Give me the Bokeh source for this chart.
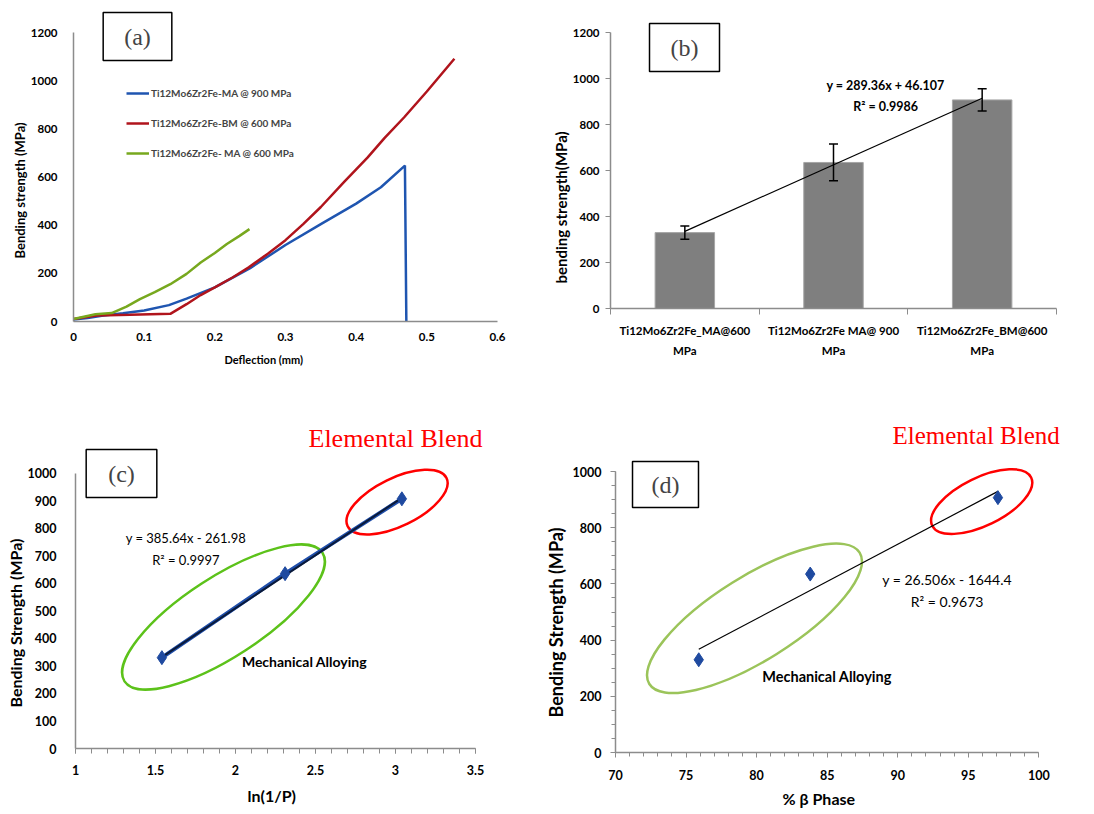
from bokeh.plotting import figure
from bokeh.models import (Range1d, FixedTicker, Legend, LegendItem, Label, Title,
                          ColumnDataSource, Whisker, TeeHead, NumeralTickFormatter)
from bokeh.layouts import column, row
from bokeh.embed import file_html
from bokeh.resources import INLINE

# ---------------- data ----------------
# (a) bending strength vs deflection
defl_ma900 = [0, 0.02, 0.04, 0.07, 0.1, 0.135, 0.16, 0.2, 0.25, 0.3, 0.35, 0.4, 0.435, 0.469, 0.471]
str_ma900 = [8, 15, 24, 34, 46, 68, 95, 142, 222, 318, 405, 490, 558, 648, 0]
defl_bm600 = [0, 0.033, 0.08, 0.137, 0.16, 0.18, 0.2, 0.225, 0.248, 0.275, 0.3, 0.325, 0.35, 0.383,
              0.416, 0.44, 0.468, 0.5, 0.539]
str_bm600 = [10, 25, 28, 32, 72, 110, 142, 183, 225, 282, 338, 405, 476, 580,
             681, 762, 849, 956, 1092]
defl_ma600 = [0, 0.031, 0.054, 0.075, 0.094, 0.115, 0.137, 0.16, 0.18, 0.2, 0.217, 0.235, 0.249]
str_ma600 = [10, 30, 35, 62, 93, 122, 155, 198, 245, 285, 322, 356, 384]
legend_labels = ["Ti12Mo6Zr2Fe-MA @ 900 MPa", "Ti12Mo6Zr2Fe-BM @ 600 MPa", "Ti12Mo6Zr2Fe- MA @ 600 MPa"]

# (b) bars
bar_labels = ["Ti12Mo6Zr2Fe_MA@600\nMPa", "Ti12Mo6Zr2Fe MA@ 900\nMPa", "Ti12Mo6Zr2Fe_BM@600\nMPa"]
bar_pos = [1, 2, 3]
strength = [330, 635, 907]
strength_err = [29, 80, 48]
fit_b = (289.36, 46.107)
eq_b = ["y = 289.36x + 46.107", "R² = 0.9986"]

# (c) vs ln(1/P)
lnP = [1.54, 2.31, 3.04]
fit_c = (385.64, -261.98)
eq_c = ["y = 385.64x - 261.98", "R² = 0.9997"]

# (d) vs % beta phase
beta = [75.9, 83.8, 97.1]
fit_d = (26.506, -1644.4)
eq_d = ["y = 26.506x - 1644.4", "R² = 0.9673"]

SANS = "Lato"
SERIF = "Liberation Serif"
AX = "#8c8c8c"


def base(width, height, xr, yr, xb, yb, bl, br, bt, bb):
    p = figure(width=width, height=height, x_range=Range1d(*xr), y_range=Range1d(*yr),
               toolbar_location=None, output_backend="svg",
               min_border_left=bl, min_border_right=br, min_border_top=bt, min_border_bottom=bb)
    p.outline_line_color = None
    p.grid.visible = False
    p.xaxis.bounds = xb
    p.yaxis.bounds = yb
    for ax in p.axis:
        ax.axis_line_color = AX
        ax.axis_line_width = 1.5
        ax.major_label_text_font = SANS
        ax.major_label_text_font_style = "bold"
        ax.major_label_text_color = "black"
        ax.major_tick_line_color = AX
        ax.minor_tick_line_color = AX
        ax.major_tick_in = 0
        ax.minor_tick_in = 0
    return p


def ytitle(p, text, size, offset, standoff):
    p.add_layout(Title(text=text, align="left", offset=offset, standoff=standoff,
                       text_font=SANS, text_font_style="bold", text_font_size=size,
                       text_color="black"), "left")


def xtitle(p, text, size, offset, standoff):
    p.add_layout(Title(text=text, align="left", offset=offset, standoff=standoff,
                       text_font=SANS, text_font_style="bold", text_font_size=size,
                       text_color="black"), "below")


def tag(p, text, x, y, padx, pady):
    p.add_layout(Label(x=x, y=y, x_units="screen", y_units="screen", text=text,
                       text_font=SERIF, text_font_size="24px", text_align="center",
                       text_baseline="middle", border_line_color="black", border_line_width=1.5,
                       background_fill_color="white",
                       padding=dict(left=padx, right=padx, top=pady, bottom=pady)))


def red_title(p, x, y, size):
    p.add_layout(Label(x=x, y=y, x_units="screen", y_units="screen", text="Elemental Blend",
                       text_font=SERIF, text_font_size=size, text_color="#ff0000",
                       text_align="left", text_baseline="middle"))


# ---------------- (a) ----------------
pa = base(540, 395, (0, 0.6), (0, 1313.5), (0, 0.6), (0, 1200), 73, 43, 5, 74)
pa.xaxis.ticker = FixedTicker(ticks=[0, 0.1, 0.2, 0.3, 0.4, 0.5, 0.6])
pa.xaxis.formatter = NumeralTickFormatter(format="0.[0]")
pa.yaxis.ticker = FixedTicker(ticks=[0, 200, 400, 600, 800, 1000, 1200])
for ax in pa.axis:
    ax.major_tick_line_color = None
    ax.minor_tick_line_color = None
    ax.major_label_text_font_size = "11.5px"
pa.yaxis.major_label_standoff = 10
pa.xaxis.major_label_standoff = 5
ytitle(pa, "Bending strength (MPa)", "13px", 63, 0)
xtitle(pa, "Deflection (mm)", "11px", 151, 14)
r1 = pa.line(defl_ma900, str_ma900, line_color="#1f55b0", line_width=2.5)
r2 = pa.line(defl_bm600, str_bm600, line_color="#b0141c", line_width=2.5)
r3 = pa.line(defl_ma600, str_ma600, line_color="#77a81e", line_width=2.5)
leg = Legend(items=[LegendItem(label=legend_labels[0], renderers=[r1]),
                    LegendItem(label=legend_labels[1], renderers=[r2]),
                    LegendItem(label=legend_labels[2], renderers=[r3])],
             location=(53, 158), padding=0, margin=0, spacing=10, glyph_width=23,
             glyph_height=20, label_height=20, label_standoff=2,
             label_text_font=SANS, label_text_font_style="bold", label_text_font_size="10px",
             border_line_color=None, background_fill_alpha=0)
pa.add_layout(leg)
tag(pa, "(a)", 64, 285, 21, 11)

# ---------------- (b) ----------------
pb = base(554, 395, (0.5, 3.5), (0, 1260.9), (0.5, 3.5), (0, 1200), 70, 38, 18, 87)
pb.yaxis.ticker = FixedTicker(ticks=[0, 200, 400, 600, 800, 1000, 1200])
pb.yaxis.major_tick_out = 5
pb.yaxis.major_label_standoff = 6
pb.yaxis.major_label_text_font_size = "11.5px"
ytitle(pb, "bending strength(MPa)", "15px", 25, 0)
pb.xaxis.ticker = FixedTicker(ticks=bar_pos, minor_ticks=[0.5, 1.5, 2.5, 3.5])
pb.xaxis.major_label_overrides = {bp: lab for bp, lab in zip(bar_pos, bar_labels)}
pb.xaxis.major_tick_line_color = None
pb.xaxis.minor_tick_out = 6
pb.xaxis.major_label_standoff = 9
pb.xaxis.major_label_text_font_size = "11.5px"
pb.xaxis.major_label_text_line_height = 1.6
srcb = ColumnDataSource(dict(x=bar_pos, top=strength,
                             upper=[s + e for s, e in zip(strength, strength_err)],
                             lower=[s - e for s, e in zip(strength, strength_err)]))
pb.vbar(x="x", top="top", width=0.4, source=srcb, fill_color="#7f7f7f", line_color="#a6a6a6")
pb.add_layout(Whisker(source=srcb, base="x", upper="upper", lower="lower", line_color="black",
                      line_width=1.5, level="annotation",
                      upper_head=TeeHead(size=9, line_color="black", line_width=1.5),
                      lower_head=TeeHead(size=9, line_color="black", line_width=1.5)))
xb = [min(bar_pos), max(bar_pos)]
pb.line(xb, [fit_b[0] * v + fit_b[1] for v in xb], line_color="black", line_width=1.2)
pb.text(x=[2.35, 2.35], y=[971, 880], text=eq_b, text_font={"value": SANS}, text_font_style="bold",
        text_font_size="12.5px", text_align="center", text_baseline="middle")
tag(pb, "(b)", 74, 261, 21, 11)

# ---------------- (c) ----------------
pc = base(540, 419, (1, 3.594), (0, 1191.4), (1, 3.5), (0, 1000), 75, 50, 25, 66)
pc.xaxis.ticker = FixedTicker(ticks=[1, 1.5, 2, 2.5, 3, 3.5],
                              minor_ticks=[round(1 + 0.1 * i, 1) for i in range(26)])
pc.xaxis.formatter = NumeralTickFormatter(format="0.[0]")
pc.xaxis.major_tick_out = 5
pc.xaxis.minor_tick_out = 5
pc.xaxis.major_label_standoff = 11
pc.yaxis.ticker = FixedTicker(ticks=list(range(0, 1001, 100)))
pc.yaxis.major_tick_line_color = None
pc.yaxis.major_label_standoff = 13
for ax in pc.axis:
    ax.major_label_text_font_size = "12.5px"
ytitle(pc, "Bending Strength (MPa)", "16px", 41, 0)
xtitle(pc, "ln(1/P)", "16px", 172, 12)
mx_c = (lnP[0] + lnP[1]) / 2
my_c = (strength[0] + strength[1]) / 2
pc.ellipse(x=[mx_c], y=[my_c - 5], width=236, height=80, width_units="screen",
           height_units="screen", angle=33, angle_units="deg", fill_color=None,
           line_color="#5cc21a", line_width=2.5)
pc.ellipse(x=[lnP[2] - 0.03], y=[strength[2] - 12], width=110, height=48, width_units="screen",
           height_units="screen", angle=26, angle_units="deg", fill_color=None,
           line_color="#ff0000", line_width=2.5)
pc.line(lnP, strength, line_color="#1f4eaa", line_width=4)
xc = [min(lnP), max(lnP)]
pc.line(xc, [fit_c[0] * v + fit_c[1] for v in xc], line_color="#0a1a3a", line_width=2)
pc.scatter(lnP, strength, marker="diamond", size=14, fill_color="#1f4aa0", line_color="#1f4aa0")
pc.text(x=[1.69, 1.69], y=[764, 685], text=eq_c, text_font={"value": SANS},
        text_font_size="13px", text_align="center", text_baseline="middle")
pc.text(x=[2.04], y=[317], text=["Mechanical Alloying"], text_font={"value": SANS},
        text_font_style="bold", text_font_size="14px", text_align="left", text_baseline="middle")
red_title(pc, 233, 310, "26px")
tag(pc, "(c)", 46, 275, 22, 11)

# ---------------- (d) ----------------
pd_ = base(554, 419, (70, 103.66), (0, 1192.2), (70, 100), (0, 1000), 75, 4, 22, 62)
pd_.xaxis.ticker = FixedTicker(ticks=list(range(70, 101, 5)), minor_ticks=list(range(70, 101)))
pd_.yaxis.ticker = FixedTicker(ticks=list(range(0, 1001, 200)), minor_ticks=list(range(0, 1001, 50)))
for ax in pd_.axis:
    ax.major_tick_out = 5
    ax.minor_tick_out = 4
    ax.major_label_text_font_size = "12.5px"
pd_.xaxis.major_label_standoff = 12
pd_.yaxis.major_label_standoff = 9
ytitle(pd_, "Bending Strength (MPa)", "18px", 35, 5)
xtitle(pd_, "% β Phase", "16px", 167, 8)
mx_d = (beta[0] + beta[1]) / 2
pd_.ellipse(x=[mx_d], y=[my_c - 5], width=248, height=84, width_units="screen",
            height_units="screen", angle=32, angle_units="deg", fill_color=None,
            line_color="#9bc45a", line_width=2.5)
pd_.ellipse(x=[beta[2] - 1.15], y=[strength[2] - 14], width=110, height=48, width_units="screen",
            height_units="screen", angle=26, angle_units="deg", fill_color=None,
            line_color="#ff0000", line_width=2.5)
xd = [min(beta), max(beta)]
pd_.line(xd, [fit_d[0] * v + fit_d[1] for v in xd], line_color="black", line_width=1.2)
pd_.scatter(beta, strength, marker="diamond", size=14, fill_color="#1f4aa0", line_color="#1f4aa0")
pd_.text(x=[93.5, 93.5], y=[615, 538], text=eq_d, text_font={"value": SANS},
         text_font_size="14px", text_align="center", text_baseline="middle")
pd_.text(x=[80.4], y=[271], text=["Mechanical Alloying"], text_font={"value": SANS},
         text_font_style="bold", text_font_size="14.5px", text_align="left", text_baseline="middle")
red_title(pd_, 277, 317, "25px")
tag(pd_, "(d)", 50, 268, 19, 10)

layout = column(row(column(pa), column(pb)), row(column(pc), column(pd_)))
open("out.html", "w").write(file_html(layout, INLINE))
